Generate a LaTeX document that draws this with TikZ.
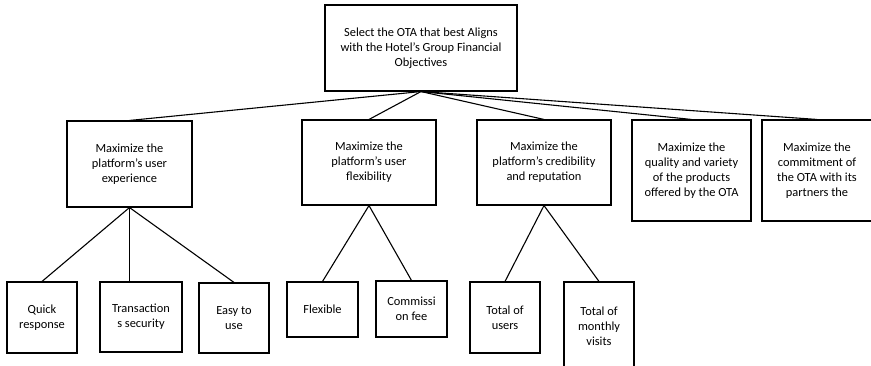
\documentclass[tikz,border=0pt]{standalone}
\usepackage{fontspec}
\setmainfont{Carlito}
\begin{document}
\begin{tikzpicture}[x=1pt,y=-1pt,
  box/.style={draw=black, line width=1.1pt, fill=white, inner sep=0pt,
    align=center, font=\fontsize{12.4}{15}\selectfont},
  link/.style={draw=black, line width=1.1pt}]
\useasboundingbox (0,0) rectangle (871,366);
\clip (0,0) rectangle (871,366);
\fill[white] (0,0) rectangle (871,366);

% goal
\node[box, minimum width=192pt, minimum height=86pt] (top) at (421,48)
  {Select the OTA that best Aligns\\with the Hotel’s Group Financial\\Objectives};

% objectives
\node[box, minimum width=125pt, minimum height=86pt] (ux) at (129.5,164)
  {Maximize the\\platform’s user\\experience};
\node[box, minimum width=134pt, minimum height=85pt] (flex) at (369,162.5)
  {Maximize the\\platform’s user\\flexibility};
\node[box, minimum width=134pt, minimum height=85pt] (cred) at (544,162.5)
  {Maximize the\\platform’s credibility\\and reputation};
\node[box, minimum width=119pt, minimum height=101pt] (qual) at (691.5,170.5)
  {Maximize the\\quality and variety\\of the products\\offered by the OTA};
\node[box, minimum width=110pt, minimum height=101pt] (comm) at (817,170.5)
  {Maximize the\\commitment of\\the OTA with its\\partners the};

% criteria
\node[box, minimum width=70pt, minimum height=71pt] (quick) at (42,317.5)
  {Quick\\response};
\node[box, minimum width=82pt, minimum height=70pt] (trans) at (141,317)
  {Transaction\\s security};
\node[box, minimum width=70pt, minimum height=70pt] (easy) at (234,318)
  {Easy to\\use};
\node[box, minimum width=71pt, minimum height=55pt] (flexible) at (322.5,309.5)
  {Flexible};
\node[box, minimum width=71pt, minimum height=56pt] (fee) at (411.5,309)
  {Commissi\\on fee};
\node[box, minimum width=70pt, minimum height=71pt] (users) at (505,317.5)
  {Total of\\users};
\node[box, minimum width=70pt, minimum height=88pt] (visits) at (599,326)
  {Total of\\monthly\\visits};

% connectors
\foreach \n in {ux,flex,cred,qual,comm}
  \draw[link] (top.south) -- (\n.north);
\draw[link] (ux.south) -- (quick.north);
\draw[link] (ux.south) -- (ux.south |- trans.north);
\draw[link] (ux.south) -- (easy.north);
\draw[link] (flex.south) -- (flexible.north);
\draw[link] (flex.south) -- (fee.north);
\draw[link] (cred.south) -- (users.north);
\draw[link] (cred.south) -- (visits.north);
\end{tikzpicture}
\end{document}
